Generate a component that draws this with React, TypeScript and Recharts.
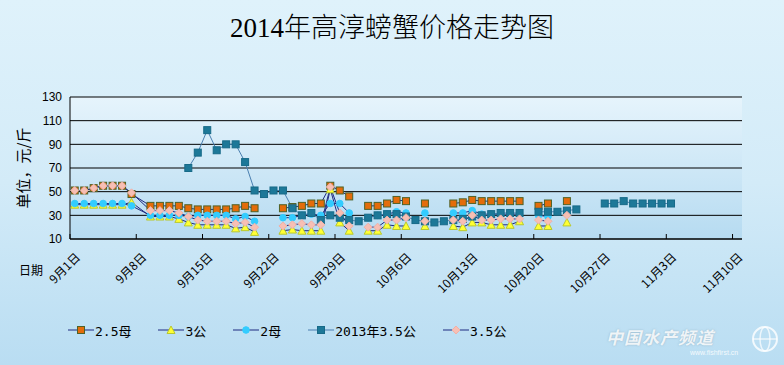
import { CartesianGrid, Legend, Line, LineChart, XAxis, YAxis } from "recharts";

// day index from 9月1日 (0) — rows only for dates present in the sheet
const dayIndex = [
  0, 1, 2, 3, 4, 5, 6, 8, 9, 10, 11, 12, 13, 14, 15, 16, 17, 18, 19, 20, 21,
  22, 23, 24, 25, 26, 27, 28, 29, 30, 31, 32, 33, 34, 35, 36, 37, 38, 39, 40,
  41, 42, 43, 44, 45, 46, 47, 48, 49, 50, 51, 52, 53, 54, 56, 57, 58, 59, 60,
  61, 62, 63,
];

const n = null;

const mu25 = [
  51, 51, 53, 55, 55, 55, 48, 38, 38, 38, 38, 36, 35, 35, 35, 35, 36, 38, 36, n,
  n, 36, 37, 38, 40, 40, 55, 51, 46, n, 38, 38, 40, 43, 42, n, 40, n, n, 40, 41,
  43, 42, 42, 42, 42, 42, n, 38, 40, n, 42, n, n, n, n, n, n, n, n, n, n,
];
const gong3 = [
  39, 39, 39, 39, 39, 39, 41, 29, 29, 29, 27, 24, 22, 22, 22, 22, 19, 20, 16, n,
  n, 17, 18, 17, 17, 17, 52, 24, 17, n, 17, 17, 22, 21, 21, n, 21, n, n, 21, 20,
  24, 24, 22, 22, 22, 25, n, 21, 21, n, 24, n, n, n, n, n, n, n, n, n, n,
];
const mu2 = [
  40, 40, 40, 40, 40, 40, 38, 30, 30, 30, 30, 29, 30, 30, 30, 30, 27, 29, 25, n,
  n, 28, 28, 30, 31, 30, 40, 40, 32, n, 28, 30, 31, 33, 32, n, 32, n, n, 32, 32,
  34, 31, 31, 31, 31, 31, n, 30, 29, n, n, n, n, n, n, n, n, n, n, n, n,
];
const gong35Last = [
  n, n, n, n, n, n, n, n, n, n, n, 70, 83, 102, 85, 90, 90, 75, 51, 48, 51, 51,
  36, 30, 32, 26, 30, 28, 26, 25, 28, 30, 31, 31, 29, 26, 25, 24, 25, 26, 27, 29,
  30, 31, 32, 32, 32, n, 33, 33, 33, 34, 35, n, 40, 40, 42, 40, 40, 40, 40, 40,
];
const gong35 = [
  51, 51, 53, 55, 55, 55, 49, 34, 34, 34, 32, 29, 26, 25, 25, 25, 23, 24, 20, n,
  n, 21, 22, 23, 22, 22, 54, 32, 21, n, 20, 20, 26, 26, 28, n, 25, n, n, 26, 25,
  30, 26, 26, 27, 27, 27, n, 26, 25, n, 30, n, n, n, n, n, n, n, n, n, n,
];

const tickDays = [0, 7, 14, 21, 28, 35, 42, 49, 56, 63, 70];
const tickLabels = [
  "9月1日", "9月8日", "9月15日", "9月22日", "9月29日", "10月6日",
  "10月13日", "10月20日", "10月27日", "11月3日", "11月10日",
];
const yTicks = [10, 30, 50, 70, 90, 110, 130];

const data = dayIndex.map((d, i) => ({
  x: d + 0.5,
  mu25: mu25[i],
  gong3: gong3[i],
  mu2: mu2[i],
  gong35Last: gong35Last[i],
  gong35: gong35[i],
}));

type Shape = "square" | "triangle" | "circle" | "diamond";

const series: {
  key: string;
  name: string;
  line: string;
  shape: Shape;
  fill: string;
  stroke: string;
}[] = [
  { key: "mu25", name: "2.5母", line: "#1f2a80", shape: "square", fill: "#e46c0a", stroke: "#4f6228" },
  { key: "gong3", name: "3公", line: "#1f2a80", shape: "triangle", fill: "#ffff33", stroke: "#b8c830" },
  { key: "mu2", name: "2母", line: "#1f2a80", shape: "circle", fill: "#33ccff", stroke: "#33ccff" },
  { key: "gong35Last", name: "2013年3.5公", line: "#4a7fb0", shape: "square", fill: "#1d7898", stroke: "#176a88" },
  { key: "gong35", name: "3.5公", line: "#1f2a80", shape: "diamond", fill: "#f7bfb4", stroke: "#f0b0a8" },
];

const cjk = '"Noto Sans CJK SC", "Liberation Sans", sans-serif';
const legendFont = '"DejaVu Sans Mono", "Noto Sans CJK SC", monospace';

function Marker({ cx, cy, shape, fill, stroke }: any) {
  if (cx == null || cy == null) return <g />;
  if (shape === "square")
    return <rect x={cx - 3.5} y={cy - 3.5} width={7} height={7} fill={fill} stroke={stroke} strokeWidth={1} />;
  if (shape === "triangle")
    return (
      <polygon
        points={`${cx},${cy - 4} ${cx + 4},${cy + 3.5} ${cx - 4},${cy + 3.5}`}
        fill={fill}
        stroke={stroke}
        strokeWidth={1}
      />
    );
  if (shape === "circle") return <circle cx={cx} cy={cy} r={3.3} fill={fill} stroke={stroke} />;
  return (
    <polygon
      points={`${cx},${cy - 4} ${cx + 4},${cy} ${cx},${cy + 4} ${cx - 4},${cy}`}
      fill={fill}
      stroke={stroke}
      strokeWidth={1}
    />
  );
}

const DateTick = (props: any) => {
  const { x, y, payload } = props;
  const label = tickLabels[tickDays.indexOf(payload.value)];
  const ax = x + 11;
  const ay = y + 19;
  return (
    <g>
      <line x1={x} y1={y - 5} x2={x} y2={y} stroke="#000" />
      <text
        x={ax}
        y={ay}
        textAnchor="end"
        transform={`rotate(-45 ${ax} ${ay})`}
        fontSize={12}
        fontFamily={cjk}
        fill="#000"
      >
        {label}
      </text>
    </g>
  );
};

function LegendContent() {
  return (
    <div style={{ display: "flex", alignItems: "center", height: 20, fontFamily: legendFont, fontSize: 13, color: "#000" }}>
      {series.map((s) => (
        <div key={s.key} style={{ display: "flex", alignItems: "center", marginRight: 27 }}>
          <svg width={26} height={12}>
            <line x1={0} y1={6} x2={26} y2={6} stroke={s.line} strokeWidth={1} />
            <Marker cx={13} cy={6} shape={s.shape} fill={s.fill} stroke={s.stroke} />
          </svg>
          <span style={{ marginLeft: 1 }}>{s.name}</span>
        </div>
      ))}
    </div>
  );
}

export default function App() {
  return (
    <div
      style={{
        position: "absolute",
        left: 0,
        top: 0,
        width: 784,
        height: 365,
        background: "linear-gradient(to bottom, #dff2fb 0%, #d3ebf8 50%, #b9ddf2 100%)",
        overflow: "hidden",
      }}
    >
      <div
        style={{
          position: "absolute",
          left: 0,
          top: 6,
          width: 784,
          textAlign: "center",
          fontFamily: '"Liberation Serif", "Noto Sans CJK SC", serif',
          fontWeight: 300,
          fontSize: 27,
          color: "#000",
        }}
      >
        2014年高淳螃蟹价格走势图
      </div>
      <LineChart
        width={784}
        height={365}
        data={data}
        margin={{ top: 97, right: 42, left: 0, bottom: 12 }}
        style={{ position: "absolute", left: 0, top: 0 }}
      >
        <defs>
          <linearGradient id="plotBg" x1="0" y1="0" x2="0" y2="1">
            <stop offset="0%" stopColor="#e6f4fc" />
            <stop offset="100%" stopColor="#b6dbf1" />
          </linearGradient>
        </defs>
        <CartesianGrid vertical={false} stroke="#000" fill="url(#plotBg)" fillOpacity={1} />
        <XAxis
          type="number"
          dataKey="x"
          domain={[0, 71]}
          ticks={tickDays}
          interval={0}
          allowDataOverflow
          height={94}
          tickSize={0}
          tickMargin={0}
          tickLine={false}
          axisLine={{ stroke: "#000" }}
          tick={<DateTick />}
          label={(p: any) => {
            const vb = p.viewBox;
            return (
              <text x={vb.x - 39} y={vb.y + 36} textAnchor="middle" fontSize={12} fontFamily={cjk} fill="#000">
                日期
              </text>
            );
          }}
        />
        <YAxis
          domain={[10, 130]}
          ticks={yTicks}
          interval={0}
          width={70}
          tickLine={false}
          axisLine={{ stroke: "#000" }}
          tick={{ fontSize: 12, fill: "#000", fontFamily: '"Liberation Sans", sans-serif' }}
          label={(p: any) => {
            const vb = p.viewBox;
            const lx = vb.x + 22;
            const ly = vb.y + vb.height / 2;
            return (
              <text
                x={lx}
                y={ly}
                textAnchor="middle"
                dominantBaseline="central"
                transform={`rotate(-90 ${lx} ${ly})`}
                fontSize={15}
                fontFamily={cjk}
                fill="#000"
              >
                单位，元/斤
              </text>
            );
          }}
        />
        <Legend
          verticalAlign="bottom"
          content={<LegendContent />}
          wrapperStyle={{ left: 68, width: 560, bottom: 25 }}
        />
        {series.map((s) => (
          <Line
            key={s.key}
            dataKey={s.key}
            name={s.name}
            stroke={s.line}
            strokeWidth={1}
            connectNulls={false}
            isAnimationActive={false}
            dot={(p: any) => (
              <Marker key={`${s.key}-${p.index}`} cx={p.cx} cy={p.cy} shape={s.shape} fill={s.fill} stroke={s.stroke} />
            )}
            activeDot={false}
          />
        ))}
      </LineChart>
      <div
        style={{
          position: "absolute",
          left: 606,
          top: 327,
          lineHeight: "20px",
          fontFamily: cjk,
          fontSize: 17,
          fontWeight: 700,
          fontStyle: "italic",
          color: "rgba(255,255,255,0.85)",
          letterSpacing: 1,
          textShadow: "0 0 2px rgba(120,150,170,0.6)",
        }}
      >
        中国水产频道
      </div>
      <div
        style={{
          position: "absolute",
          left: 690,
          top: 349,
          lineHeight: "8px",
          fontFamily: '"Liberation Sans", sans-serif',
          fontSize: 7,
          color: "rgba(255,255,255,0.85)",
        }}
      >
        www.fishfirst.cn
      </div>
      <svg style={{ position: "absolute", left: 750, top: 324 }} width={30} height={32}>
        <circle cx={15} cy={15} r={12} fill="none" stroke="rgba(255,255,255,0.8)" strokeWidth={2} />
        <ellipse cx={15} cy={15} rx={5} ry={12} fill="none" stroke="rgba(255,255,255,0.7)" strokeWidth={1.5} />
        <line x1={3} y1={15} x2={27} y2={15} stroke="rgba(255,255,255,0.7)" strokeWidth={1.5} />
      </svg>
    </div>
  );
}
